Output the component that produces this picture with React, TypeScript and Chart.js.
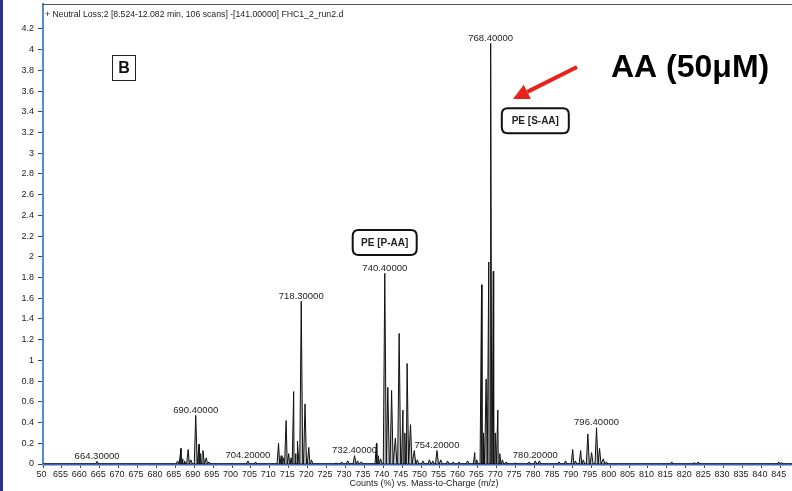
import React, { useEffect, useRef } from 'react';
import { Chart, registerables } from 'chart.js';

Chart.register(...registerables);

// ---- data ----
const peakMz = [
  664.3,
  685.6, 686.5, 686.9, 687.4, 688.4, 689.1, 690.4, 691.3, 691.7, 692.3, 693.2, 693.9,
  704.2, 706.2,
  712.3, 713.0, 713.6, 714.3, 715.0, 715.6, 716.3, 716.8, 717.3, 718.3, 719.3, 720.3, 721.0,
  727.5, 729.0, 730.6, 732.4, 733.2, 734.2,
  738.2, 738.7, 739.3, 740.4, 741.2, 742.2, 743.2, 744.2, 745.2, 745.7, 746.3, 747.2, 748.2, 749.0,
  750.5, 752.2, 753.1, 754.2, 755.2, 757.0, 758.5, 760.0, 762.3,
  764.2, 764.7, 766.0, 766.5, 767.2, 767.9, 768.4, 769.1, 769.6, 770.3, 770.8, 771.5, 772.5,
  775.0, 778.5, 780.2, 781.3, 786.5,
  788.2, 790.1, 790.8, 792.2, 792.9, 794.1, 795.1, 796.4, 797.2, 798.2, 799.0,
  816.3, 822.2, 823.3, 844.6, 845.4,
];
const peakIntensity = [
  0.025,
  0.03, 0.15, 0.05, 0.03, 0.14, 0.04, 0.47, 0.19, 0.1, 0.13, 0.06, 0.02,
  0.03, 0.02,
  0.2, 0.08, 0.06, 0.42, 0.1, 0.06, 0.7, 0.1, 0.22, 1.57, 0.58, 0.16, 0.04,
  0.01, 0.02, 0.03, 0.08, 0.03, 0.02,
  0.2, 0.08, 0.05, 1.84, 0.74, 0.71, 0.25, 1.26, 0.52, 0.3, 0.97, 0.38, 0.13, 0.04,
  0.03, 0.04, 0.03, 0.13, 0.04, 0.03, 0.02, 0.02, 0.03,
  0.11, 0.04, 1.73, 0.3, 0.82, 1.95, 4.06, 1.86, 0.3, 0.52, 0.1, 0.04, 0.02,
  0.01, 0.02, 0.03, 0.03, 0.02,
  0.03, 0.14, 0.03, 0.13, 0.04, 0.29, 0.11, 0.35, 0.15, 0.05, 0.02,
  0.02, 0.015, 0.02, 0.02, 0.015,
];
const labeledMz = [664.3, 690.4, 704.2, 718.3, 732.4, 740.4, 754.2, 768.4, 780.2, 796.4];
const labeledText = [
  '664.30000', '690.40000', '704.20000', '718.30000', '732.40000',
  '740.40000', '754.20000', '768.40000', '780.20000', '796.40000',
];
const xTickValues = [
  650, 655, 660, 665, 670, 675, 680, 685, 690, 695, 700, 705, 710, 715, 720, 725, 730, 735, 740, 745,
  750, 755, 760, 765, 770, 775, 780, 785, 790, 795, 800, 805, 810, 815, 820, 825, 830, 835, 840, 845,
];
const xTickLabels = [
  '50', '655', '660', '665', '670', '675', '680', '685', '690', '695', '700', '705', '710', '715', '720',
  '725', '730', '735', '740', '745', '750', '755', '760', '765', '770', '775', '780', '785', '790', '795',
  '800', '805', '810', '815', '820', '825', '830', '835', '840', '845',
];
const yTickValues = [0, 0.2, 0.4, 0.6, 0.8, 1, 1.2, 1.4, 1.6, 1.8, 2, 2.2, 2.4, 2.6, 2.8, 3, 3.2, 3.4, 3.6, 3.8, 4, 4.2];
const yTickLabels = ['0', '0.2', '0.4', '0.6', '0.8', '1', '1.2', '1.4', '1.6', '1.8', '2', '2.2', '2.4', '2.6', '2.8', '3', '3.2', '3.4', '3.6', '3.8', '4', '4.2'];
const boxLabels = ['PE [P-AA]', 'PE [S-AA]'];
const headerText = '+ Neutral Loss:2 [8.524-12.082 min, 106 scans] -[141.00000] FHC1_2_run2.d';
const xAxisTitle = 'Counts (%) vs. Mass-to-Charge (m/z)';
const panelLetter = 'B';
const conditionText = 'AA (50\u03bcM)';

const X_MIN = 650;
const X_MAX = 848.1;
const Y_MAX = 4.44;
const PEAK_HALF_WIDTH = 0.4;
const FONT = '"Liberation Sans", Arial, sans-serif';

function roundRect(ctx: CanvasRenderingContext2D, x: number, y: number, w: number, h: number, r: number) {
  ctx.beginPath();
  ctx.moveTo(x + r, y);
  ctx.lineTo(x + w - r, y);
  ctx.quadraticCurveTo(x + w, y, x + w, y + r);
  ctx.lineTo(x + w, y + h - r);
  ctx.quadraticCurveTo(x + w, y + h, x + w - r, y + h);
  ctx.lineTo(x + r, y + h);
  ctx.quadraticCurveTo(x, y + h, x, y + h - r);
  ctx.lineTo(x, y + r);
  ctx.quadraticCurveTo(x, y, x + r, y);
  ctx.closePath();
}

const overlayPlugin = {
  id: 'overlay',
  beforeDraw(chart: any) {
    const ctx = chart.ctx as CanvasRenderingContext2D;
    ctx.save();
    ctx.fillStyle = '#ffffff';
    ctx.fillRect(0, 0, chart.width, chart.height);
    ctx.restore();
  },
  afterDraw(chart: any) {
    const ctx = chart.ctx as CanvasRenderingContext2D;
    const xs = chart.scales.x;
    const ys = chart.scales.y;
    const area = chart.chartArea;
    ctx.save();

    // slide edge strip
    ctx.fillStyle = '#2b3187';
    ctx.fillRect(0, 0, 3, chart.height);

    // frame top line
    ctx.strokeStyle = '#555';
    ctx.lineWidth = 1;
    ctx.beginPath();
    ctx.moveTo(area.left - 1, area.top + 0.5);
    ctx.lineTo(chart.width, area.top + 0.5);
    ctx.stroke();

    // header
    ctx.fillStyle = '#222';
    ctx.font = `8.7px ${FONT}`;
    ctx.textAlign = 'left';
    ctx.textBaseline = 'middle';
    ctx.fillText(headerText, area.left + 2, area.top + 10.5);

    // peak labels
    ctx.font = `9.5px ${FONT}`;
    ctx.textAlign = 'center';
    ctx.textBaseline = 'alphabetic';
    labeledMz.forEach((m, i) => {
      const idx = peakMz.indexOf(m);
      const h = idx >= 0 ? peakIntensity[idx] : 0;
      const x = xs.getPixelForValue(m);
      const y = ys.getPixelForValue(h) - 2.5;
      ctx.fillText(labeledText[i], x, y);
    });

    // axis title
    ctx.font = `9px ${FONT}`;
    ctx.textBaseline = 'middle';
    ctx.fillText(xAxisTitle, 424, 484);

    // PE boxes
    const boxes = [
      { cx: 384.7, cy: 242.5, w: 64, h: 25 },
      { cx: 535.3, cy: 120.7, w: 67, h: 25 },
    ];
    boxes.forEach((b, i) => {
      roundRect(ctx, b.cx - b.w / 2, b.cy - b.h / 2, b.w, b.h, 6);
      ctx.fillStyle = '#fff';
      ctx.fill();
      ctx.strokeStyle = '#111';
      ctx.lineWidth = 2;
      ctx.stroke();
      ctx.fillStyle = '#222';
      ctx.font = `bold 10px ${FONT}`;
      ctx.textAlign = 'center';
      ctx.textBaseline = 'middle';
      ctx.fillText(boxLabels[i], b.cx, b.cy + 0.5);
    });

    // panel letter box
    ctx.fillStyle = '#fff';
    ctx.fillRect(112, 55, 23, 25);
    ctx.strokeStyle = '#222';
    ctx.lineWidth = 1;
    ctx.strokeRect(112.5, 55.5, 23, 25);
    ctx.fillStyle = '#111';
    ctx.font = `bold 16px ${FONT}`;
    ctx.textAlign = 'center';
    ctx.textBaseline = 'middle';
    ctx.fillText(panelLetter, 124, 68.5);

    // condition text
    ctx.font = `bold 32px ${FONT}`;
    ctx.textAlign = 'left';
    ctx.textBaseline = 'alphabetic';
    ctx.fillStyle = '#000';
    ctx.fillText(conditionText, 611, 77);

    // red arrow
    const x0 = 577, y0 = 67, x1 = 513, y1 = 99;
    const ang = Math.atan2(y1 - y0, x1 - x0);
    const headLen = 16, headHalf = 8;
    const bx = x1 - headLen * Math.cos(ang);
    const by = y1 - headLen * Math.sin(ang);
    ctx.strokeStyle = '#e8231c';
    ctx.lineWidth = 4;
    ctx.lineCap = 'butt';
    ctx.beginPath();
    ctx.moveTo(x0, y0);
    ctx.lineTo(bx, by);
    ctx.stroke();
    ctx.fillStyle = '#e8231c';
    ctx.beginPath();
    ctx.moveTo(x1, y1);
    ctx.lineTo(bx + headHalf * Math.sin(ang), by - headHalf * Math.cos(ang));
    ctx.lineTo(bx - headHalf * Math.sin(ang), by + headHalf * Math.cos(ang));
    ctx.closePath();
    ctx.fill();

    ctx.restore();
  },
};

export default function App() {
  const canvasRef = useRef<HTMLCanvasElement | null>(null);

  useEffect(() => {
    const canvas = canvasRef.current;
    if (!canvas) return;

    const pts: { x: number; y: number }[] = [{ x: X_MIN, y: 0 }];
    peakMz.forEach((m, i) => {
      pts.push({ x: m - PEAK_HALF_WIDTH, y: 0 });
      pts.push({ x: m, y: peakIntensity[i] });
      pts.push({ x: m + PEAK_HALF_WIDTH, y: 0 });
    });
    pts.push({ x: X_MAX, y: 0 });
    pts.sort((a, b) => a.x - b.x);

    const chart = new Chart(canvas, {
      type: 'line',
      data: {
        datasets: [
          {
            data: pts,
            borderColor: '#111',
            borderWidth: 1,
            pointRadius: 0,
            tension: 0,
            fill: 'origin',
            backgroundColor: 'rgba(130,130,130,0.5)',
          },
        ],
      },
      options: {
        animation: false,
        responsive: false,
        maintainAspectRatio: false,
        parsing: false,
        layout: { padding: { top: 4, left: 0, right: 0, bottom: 0 } },
        plugins: {
          legend: { display: false },
          tooltip: { enabled: false },
          title: { display: false },
        },
        scales: {
          x: {
            type: 'linear',
            min: X_MIN,
            max: X_MAX,
            afterBuildTicks: (s: any) => {
              s.ticks = xTickValues.map((v) => ({ value: v }));
            },
            afterFit: (s: any) => {
              s.height = 27;
              s.paddingLeft = 0;
              s.paddingRight = 0;
            },
            ticks: {
              autoSkip: false,
              maxRotation: 0,
              minRotation: 0,
              padding: 1,
              labelOffset: -1.5,
              color: '#222',
              font: { family: FONT, size: 9 },
              callback: (_v: any, i: number) => xTickLabels[i],
            },
            grid: { drawOnChartArea: false, drawTicks: true, tickLength: 4, color: '#444', lineWidth: 1 },
            border: { display: true, color: '#3a64b0', width: 2.5 },
          },
          y: {
            type: 'linear',
            min: 0,
            max: Y_MAX,
            afterBuildTicks: (s: any) => {
              s.ticks = yTickValues.map((v) => ({ value: v }));
            },
            afterFit: (s: any) => {
              s.width = 43;
              s.paddingTop = 0;
              s.paddingBottom = 0;
            },
            ticks: {
              padding: 4,
              color: '#222',
              font: { family: FONT, size: 9 },
              callback: (_v: any, i: number) => yTickLabels[i],
            },
            grid: { drawOnChartArea: false, drawTicks: true, tickLength: 5, color: '#444', lineWidth: 1 },
            border: { display: true, color: '#5a88cf', width: 2 },
          },
        },
      },
      plugins: [overlayPlugin],
    } as any);

    return () => chart.destroy();
  }, []);

  return (
    <div style={{ position: 'fixed', left: 0, top: 0, width: 792, height: 491, background: '#fff' }}>
      <canvas ref={canvasRef} width={792} height={491} style={{ display: 'block', width: 792, height: 491 }} />
    </div>
  );
}
